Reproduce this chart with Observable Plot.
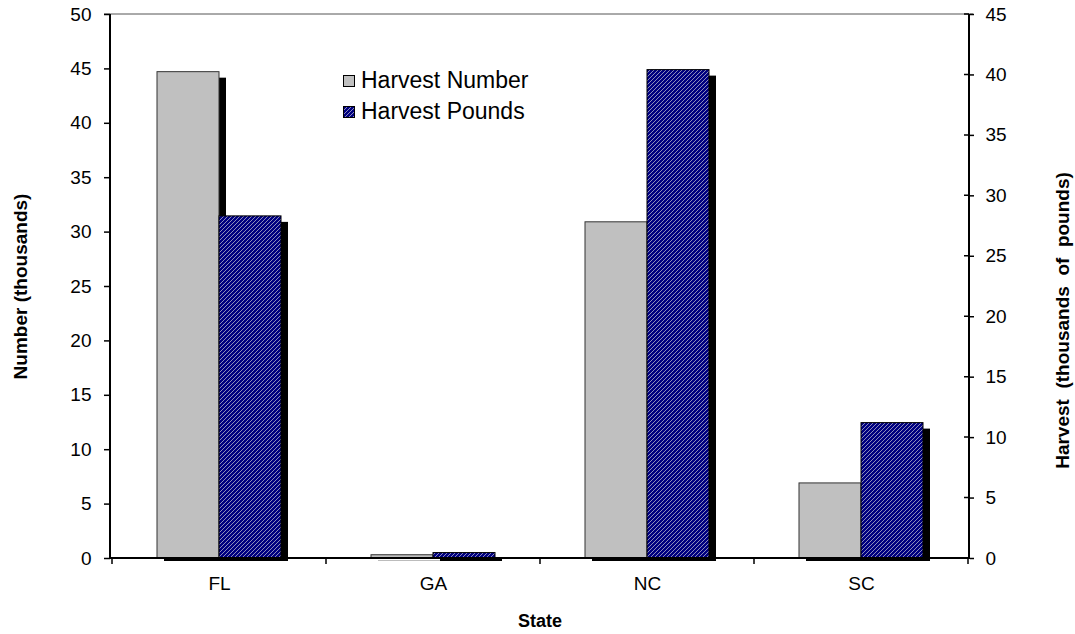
<!DOCTYPE html>
<html>
<head>
<meta charset="utf-8">
<script src="https://cdn.jsdelivr.net/npm/d3@7"></script>
<script src="https://cdn.jsdelivr.net/npm/@observablehq/plot@0.6"></script>
<style>
  body { margin: 0; background: #fff; }
  #wrap { position: relative; width: 1075px; height: 634px; }
  #wrap svg text { white-space: pre; }
  #legend { position: absolute; left: 343px; top: 65px; font-family: "Liberation Sans", Arial, sans-serif; font-size: 23px; color: #000; }
  .row { display: flex; align-items: center; height: 31px; white-space: nowrap; }
  .sw { width: 12px; height: 12px; box-sizing: border-box; border: 1px solid #000; margin-right: 6px; }
</style>
</head>
<body>
<div id="wrap"><div id="legend"></div></div>
<script>
// ---- data ----
const states = ["FL", "GA", "NC", "SC"];
const harvestNumber = [44.7, 0.3, 30.9, 6.9];      // thousands (left axis)
const harvestPounds = [28.3, 0.45, 40.4, 11.2];    // thousands of pounds (right axis)
const numberTicks = [0, 5, 10, 15, 20, 25, 30, 35, 40, 45, 50];
const poundsTicks = [0, 5, 10, 15, 20, 25, 30, 35, 40, 45];
const seriesNames = ["Harvest Number", "Harvest Pounds"];
const xTitle = "State";
const yLeftTitle = "Number (thousands)";
const yRightTitle = "Harvest  (thousands  of  pounds)";

// ---- layout / style ----
const W = 1075, H = 634, ML = 110, MR = 106, MT = 14, MB = 76;
const k = 50 / 45; // right-axis values mapped onto the left scale
const HALF = 62;   // half of a bar pair
const FONT = '"Liberation Sans", Arial, sans-serif';
const GRAY = "#c0c0c0";

const rows = states.map((s, i) => ({state: s, number: harvestNumber[i], pounds: harvestPounds[i]}));

function frameMark(index, scales, values, dims) {
  const ns = "http://www.w3.org/2000/svg";
  const g = document.createElementNS(ns, "g");
  const L = dims.marginLeft, R = dims.width - dims.marginRight, T = dims.marginTop, B = dims.height - dims.marginBottom;
  const x = scales.x;
  const bw = typeof x.bandwidth === "function" ? x.bandwidth() : 124;
  const step = typeof x.step === "function" ? x.step() : (R - L) / states.length;
  const add = (d, stroke, sw) => {
    const p = document.createElementNS(ns, "path");
    p.setAttribute("d", d); p.setAttribute("stroke", stroke); p.setAttribute("stroke-width", sw);
    p.setAttribute("fill", "none");
    g.appendChild(p);
  };
  add(`M${L - 6},${T}H${R + 4}`, "#555", 1);
  add(`M${L},${T}V${B + 1}`, "#000", 2);
  add(`M${R},${T}V${B + 1}`, "#000", 2);
  add(`M${L - 1},${B}H${R + 1}`, "#000", 2);
  let sep = "";
  const centers = states.map(s => x(s) + bw / 2);
  sep += `M${centers[0] - step / 2},${B}v6`;
  for (const c of centers) sep += `M${c + step / 2},${B}v6`;
  add(sep, "#000", 1.5);
  let inner = "";
  for (const t of poundsTicks) inner += `M${R},${scales.y(t * k)}h-5`;
  add(inner, "#000", 1.5);
  return g;
}

const chart = Plot.plot({
  width: W, height: H,
  marginLeft: ML, marginRight: MR, marginTop: MT, marginBottom: MB,
  style: {fontFamily: FONT, fontSize: "19px", background: "#fff", color: "#000", overflow: "visible"},
  x: {type: "band", domain: states, paddingInner: 0.4226, paddingOuter: 0.2113, axis: null},
  y: {domain: [0, 50], axis: null},
  marks: [
    Plot.barY(rows, {x: "state", y: "number", insetRight: HALF, dx: 7, dy: 6, insetBottom: 3, fill: "#000"}),
    Plot.barY(rows, {x: "state", y: "number", insetRight: HALF, fill: GRAY, stroke: "#333", strokeWidth: 1}),
    Plot.barY(rows, {x: "state", y: d => d.pounds * k, insetLeft: HALF, dx: 7, dy: 6, insetBottom: 3, fill: "#000"}),
    Plot.barY(rows, {x: "state", y: d => d.pounds * k, insetLeft: HALF, fill: "url(#hatch)", stroke: "#000", strokeWidth: 1}),
    frameMark,
    Plot.axisY(numberTicks, {anchor: "left", tickSize: 6, tickPadding: 13, fontSize: 19, label: null, strokeWidth: 1.5}),
    Plot.axisY(poundsTicks, {anchor: "right", y: d => d * k, tickSize: 4, tickPadding: 12, fontSize: 19, label: null, tickFormat: d => d, strokeWidth: 1.5}),
    Plot.axisX({anchor: "bottom", tickSize: 0, tickPadding: 18, fontSize: 19, label: null}),
    Plot.text([yLeftTitle], {text: d => d, frameAnchor: "left", textAnchor: "middle", dx: -90, rotate: -90, fontWeight: "bold", fontSize: 19}),
    Plot.text([yRightTitle], {text: d => d, frameAnchor: "right", textAnchor: "middle", dx: 93, dy: 34, rotate: -90, fontWeight: "bold", fontSize: 19}),
    Plot.text([xTitle], {text: d => d, frameAnchor: "bottom", dy: 68, fontWeight: "bold", fontSize: 18})
  ]
});

const defs = document.createElementNS("http://www.w3.org/2000/svg", "defs");
defs.innerHTML = `<pattern id="hatch" patternUnits="userSpaceOnUse" width="4" height="4">
  <rect width="4" height="4" fill="#000080"></rect>
  <path d="M-1,1 l2,-2 M0,4 l4,-4 M3,5 l2,-2" stroke="#8c8cba" stroke-width="1"></path>
</pattern>`;
chart.insertBefore(defs, chart.firstChild);

document.getElementById("wrap").insertBefore(chart, document.getElementById("legend"));

// legend
const legend = document.getElementById("legend");
const swatchStyles = [
  `background:${GRAY};`,
  `background: repeating-linear-gradient(135deg, #000080 0 1.8px, #8c8cba 1.8px 2.8px);`
];
seriesNames.forEach((name, i) => {
  const row = document.createElement("div");
  row.className = "row";
  row.innerHTML = `<div class="sw" style="${swatchStyles[i]}"></div><span>${name}</span>`;
  legend.appendChild(row);
});
</script>
</body>
</html>
